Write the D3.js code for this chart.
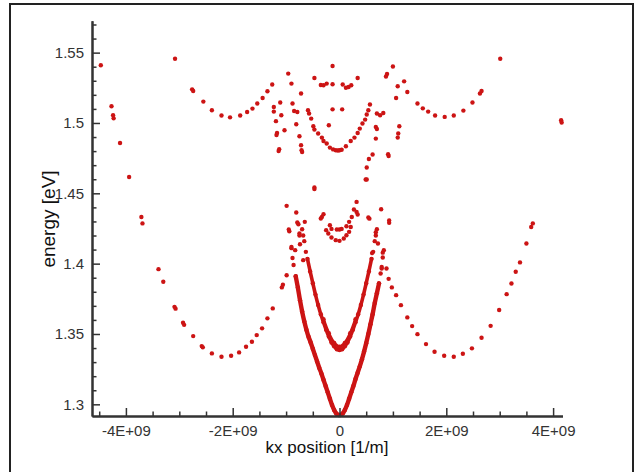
<!DOCTYPE html>
<html><head><meta charset="utf-8">
<script src="https://cdn.jsdelivr.net/npm/d3@7"></script>
<style>html,body{margin:0;padding:0;background:#fff;} svg{display:block;}</style>
</head><body><svg id="c" width="636" height="472"></svg>
<script>
// ---- tick labels / titles ----
const xTickValues = [-4e9, -2e9, 0, 2e9, 4e9];
const xTickLabels = ["-4E+09", "-2E+09", "0", "2E+09", "4E+09"];
const yTickValues = [1.3, 1.35, 1.4, 1.45, 1.5, 1.55];
const yTickLabels = ["1.3", "1.35", "1.4", "1.45", "1.5", "1.55"];
const xTitle = "kx position [1/m]";
const yTitle = "energy [eV]";
const KX_UNIT = 1e9; // kx values below are in units of 1E+09 1/m

// ---- data: [kx (E+09 1/m), energy (eV)] ----
const outerValleyLeft = [
  [-4.47,1.541],[-4.27,1.5119],[-4.24,1.5055],[-4.23,1.5033],[-4.11,1.4858],[-3.94,1.4616],
  [-3.71,1.4332],[-3.69,1.4286],[-3.39,1.3961],[-3.30,1.3871],[-3.09,1.3693],[-3.07,1.3680],
  [-2.93,1.3580],[-2.91,1.3565],[-2.74,1.3485],[-2.58,1.3414],[-2.56,1.3405],[-2.39,1.3362],
  [-2.21,1.3338],[-2.03,1.3345],[-1.88,1.3369],[-1.75,1.3409],[-1.64,1.3445],[-1.55,1.3492],
  [-1.45,1.3540],[-1.35,1.3611],[-1.25,1.3682],[-1.08,1.3831],[-1.06,1.3850],[-0.99,1.3918]
];
const outerValleyRight = [
  [0.88,1.3966],[0.92,1.3892],[0.98,1.3831],[1.06,1.3776],[1.15,1.3705],[1.27,1.3618],
  [1.36,1.3556],[1.46,1.3499],[1.62,1.3428],[1.78,1.3374],[1.96,1.3345],[2.14,1.3338],
  [2.31,1.3359],[2.48,1.3398],[2.66,1.3473],[2.83,1.3558],[2.99,1.3670],[3.13,1.3783],
  [3.22,1.3859],[3.30,1.3942],[3.38,1.4009],[3.50,1.4143],[3.59,1.4261],[3.62,1.4286]
];
const upperValleyLeft = [
  [-3.08,1.5457],[-2.76,1.5239],[-2.74,1.5227],[-2.55,1.5152],[-2.39,1.5090],[-2.21,1.5053],
  [-2.05,1.5040],[-1.86,1.5053],[-1.73,1.5078],[-1.63,1.5102],[-1.54,1.5138],[-1.44,1.5178],
  [-1.35,1.5225],[-1.26,1.5273]
];
const upperValleyRight = [
  [1.21,1.5296],[1.27,1.5220],[1.46,1.5138],[1.56,1.5104],[1.66,1.5081],[1.79,1.5053],
  [1.97,1.5043],[2.14,1.5053],[2.32,1.5088],[2.49,1.5145],[2.63,1.5209],[2.66,1.5227],
  [3.01,1.5457],[4.15,1.5019],[4.16,1.5003]
];
const centralUpper = [
  [-0.59,1.5090],[-0.57,1.5067],[-0.53,1.5031],[-0.49,1.4977],[-0.47,1.4953],[-0.40,1.4925],
  [-0.33,1.4896],[-0.30,1.4872],[-0.24,1.4854],[-0.18,1.4825],[-0.12,1.4812],[-0.07,1.4806],
  [-0.03,1.4804],[0.0,1.4806],[0.04,1.4810],[0.12,1.4834],[0.21,1.4872],[0.28,1.4896],
  [0.34,1.4929],[0.38,1.4960],[0.43,1.4996],[0.48,1.5024],[0.51,1.5060],[0.54,1.5090],[0.57,1.5131]
];
const centralMiniUpper = [
  [-0.33,1.4332],[-0.30,1.4351],[-0.18,1.4273],[-0.15,1.4247],[-0.05,1.4243],[0.0,1.4243],
  [0.04,1.4247],[0.13,1.4266],[0.18,1.4297],[0.23,1.4332],[0.27,1.4385],[0.32,1.4368],[0.34,1.4349]
];
const centralMiniLower = [
  [-0.35,1.4321],[-0.25,1.4238],[-0.21,1.4214],[-0.15,1.4186],[-0.07,1.4167],[0.0,1.4162],
  [0.08,1.4179],[0.13,1.4202],[0.18,1.4226],[0.21,1.4261]
];
const centralMid = [
  [-0.70,1.4244],[-0.68,1.4200],[-0.66,1.4160],[-0.63,1.4084],[-0.60,1.4034],[-0.55,1.3945],
  [-0.50,1.3861],[-0.45,1.3780],[-0.40,1.3706],[-0.35,1.3640],[-0.30,1.3584],[-0.25,1.3530],
  [-0.20,1.3482],[-0.15,1.3440],[-0.10,1.3412],[-0.05,1.3392],[0.0,1.3386],[0.05,1.3392],
  [0.10,1.3412],[0.15,1.3440],[0.20,1.3482],[0.25,1.3530],[0.30,1.3584],[0.35,1.3640],
  [0.40,1.3706],[0.45,1.3780],[0.50,1.3861],[0.55,1.3945],[0.60,1.4034],[0.63,1.4084],
  [0.66,1.4160],[0.68,1.4200],[0.70,1.4244]
];
const centralMidInner = [
  [-0.30,1.3605],[-0.20,1.3505],[-0.10,1.3437],[0.0,1.3409],[0.10,1.3437],[0.20,1.3505],[0.30,1.3605]
];
const centralLow = [
  [-0.90,1.4110],[-0.88,1.4040],[-0.86,1.3990],[-0.82,1.3910],[-0.78,1.3830],[-0.74,1.3740],
  [-0.70,1.3660],[-0.66,1.3590],[-0.62,1.3530],[-0.58,1.3480],[-0.54,1.3440],[-0.50,1.3395],
  [-0.46,1.3350],[-0.42,1.3305],[-0.38,1.3260],[-0.34,1.3220],[-0.30,1.3175],[-0.26,1.3130],
  [-0.22,1.3085],[-0.18,1.3040],[-0.14,1.2995],[-0.10,1.2960],[-0.06,1.2935],[-0.02,1.2925],
  [0.02,1.2925],[0.06,1.2935],[0.10,1.2960],[0.14,1.2995],[0.18,1.3040],[0.22,1.3085],
  [0.26,1.3130],[0.30,1.3180],[0.34,1.3225],[0.38,1.3270],[0.42,1.3320],[0.46,1.3375],
  [0.50,1.3435],[0.54,1.3500],[0.58,1.3570],[0.62,1.3640],[0.66,1.3720],[0.70,1.3790],
  [0.74,1.3860],[0.77,1.3930],[0.79,1.3977],[0.81,1.4044],[0.83,1.4096]
];
const scattered = [
  [-0.13,1.5405],[-0.96,1.5351],[-0.47,1.5320],[0.34,1.5320],[0.89,1.5348],[0.87,1.5330],[1.0,1.5401],
  [-0.90,1.5280],[-0.35,1.5270],[-0.30,1.5268],[-0.24,1.5280],[-0.13,1.5275],[0.06,1.5273],
  [0.12,1.5250],[0.17,1.5256],[0.22,1.5268],[1.09,1.5261],[1.06,1.5178],[-0.72,1.5209],
  [-1.11,1.5145],[-0.88,1.5138],[-1.23,1.5114],[-1.23,1.5081],[-0.85,1.5085],[-0.79,1.5078],
  [-0.13,1.5097],[0.05,1.5097],[-1.09,1.5055],[-1.19,1.5013],[-0.81,1.4991],[-0.75,1.4906],
  [-1.17,1.4929],[-1.18,1.4915],[-1.03,1.4948],[-1.13,1.4813],[-1.14,1.4800],[-0.72,1.4842],
  [-0.71,1.4806],[-0.70,1.4794],[-0.20,1.4984],[0.70,1.5067],[0.76,1.5055],[0.82,1.5071],
  [0.68,1.4972],[0.70,1.4957],[0.68,1.4889],[1.12,1.4977],[1.10,1.4925],[1.09,1.4896],
  [0.91,1.4778],[0.92,1.4765],[0.62,1.4776],[0.55,1.4744],[0.51,1.4683],[0.49,1.4598],
  [0.51,1.4598],[-0.47,1.4541],[-0.47,1.4530],[-0.99,1.4411],[0.32,1.4439],[-0.81,1.4364],
  [-0.79,1.4293],[-0.77,1.4280],[-0.65,1.4297],[-0.95,1.4243],[-0.94,1.4230],[-0.75,1.4214],
  [-0.75,1.4200],[0.54,1.4328],[0.56,1.4320],[0.78,1.4387],[0.93,1.4307],[0.93,1.4290],
  [0.68,1.4224],[0.72,1.4143],[0.61,1.4075],[0.81,1.4078],[0.79,1.3966],
  [-0.90,1.4119],[-0.83,1.4096],[-0.74,1.4138],[-0.68,1.4025]
];

// ---- layout ----
const svg = d3.select("#c");
const plot = {left: 92, right: 562.5, top: 20.7, bottom: 416};
const x = d3.scaleLinear().domain([-4.635e9, 4.176e9]).range([plot.left, plot.right]);
const y = d3.scaleLinear().domain([1.2917, 1.5727]).range([plot.bottom, plot.top]);

// frame
svg.append("rect").attr("x", 10).attr("y", 4).attr("width", 623).attr("height", 490)
  .attr("fill", "none").attr("stroke", "#222").attr("stroke-width", 2);

const red = "#cc1414";
const px = d => x(d[0] * KX_UNIT), py = d => y(d[1]);

// dense branches: drawn as thick dotted bands where the points merge
const line = d3.line().x(px).y(py).curve(d3.curveCatmullRom);
[[centralLow, 4.4, 1.392], [centralMid, 3.6, 1.405], [centralMidInner, 3.0, 1.40]].forEach(([arr, w, top]) => {
  svg.append("path").attr("d", line(arr.filter(d => d[1] <= top))).attr("fill", "none")
    .attr("stroke", red).attr("stroke-width", w).attr("stroke-linecap", "round");
});

const allSeries = [outerValleyLeft, outerValleyRight, upperValleyLeft, upperValleyRight,
  centralUpper, centralMiniUpper, centralMiniLower, centralMid, centralMidInner, centralLow, scattered];
allSeries.forEach(arr => {
  svg.append("g").selectAll("circle").data(arr).join("circle")
    .attr("cx", px).attr("cy", py).attr("r", 2.2).attr("fill", red);
});

// ---- axes ----
const axisColor = "#333";
const fontTick = "'Liberation Sans Narrow','Arial Narrow','Liberation Sans',Arial,sans-serif";

const xMinor = d3.range(-4.5e9, 4.1e9, 0.5e9).filter(v => !xTickValues.some(t => Math.abs(t - v) < 1));
const yMinor = d3.range(1.30, 1.5705, 0.01).map(v => +v.toFixed(2)).filter(v => !yTickValues.some(t => Math.abs(t - v) < 1e-6));

const gxMinor = svg.append("g").attr("transform", `translate(0,${plot.bottom})`)
  .call(d3.axisBottom(x).tickValues(xMinor).tickSizeInner(-4.5).tickSizeOuter(0).tickFormat(""));
const gyMinor = svg.append("g").attr("transform", `translate(${plot.left},0)`)
  .call(d3.axisLeft(y).tickValues(yMinor).tickSizeInner(-4.5).tickSizeOuter(0).tickFormat(""));

const gx = svg.append("g").attr("transform", `translate(0,${plot.bottom})`)
  .call(d3.axisBottom(x).tickValues(xTickValues).tickSizeInner(-8).tickSizeOuter(0).tickPadding(9)
    .tickFormat((d, i) => xTickLabels[i]));
const gy = svg.append("g").attr("transform", `translate(${plot.left},0)`)
  .call(d3.axisLeft(y).tickValues(yTickValues).tickSizeInner(-8).tickSizeOuter(0).tickPadding(8)
    .tickFormat((d, i) => yTickLabels[i]));

[gx, gy, gxMinor, gyMinor].forEach(g => {
  g.selectAll("path.domain").attr("stroke", axisColor).attr("stroke-width", 2);
  g.selectAll(".tick line").attr("stroke", axisColor).attr("stroke-width", 1.5);
  g.selectAll("text").attr("fill", "#333").style("font-family", fontTick).style("font-size", "15px");
});

// titles
svg.append("text").attr("x", 327).attr("y", 453).attr("text-anchor", "middle")
  .style("font-family", "'Liberation Sans',Arial,sans-serif").style("font-size", "17px").attr("fill", "#111")
  .text(xTitle);
svg.append("text").attr("transform", "translate(55,219) rotate(-90)").attr("text-anchor", "middle")
  .style("font-family", "'Liberation Sans',Arial,sans-serif").style("font-size", "19px").attr("fill", "#111")
  .text(yTitle);
</script>
</body></html>
